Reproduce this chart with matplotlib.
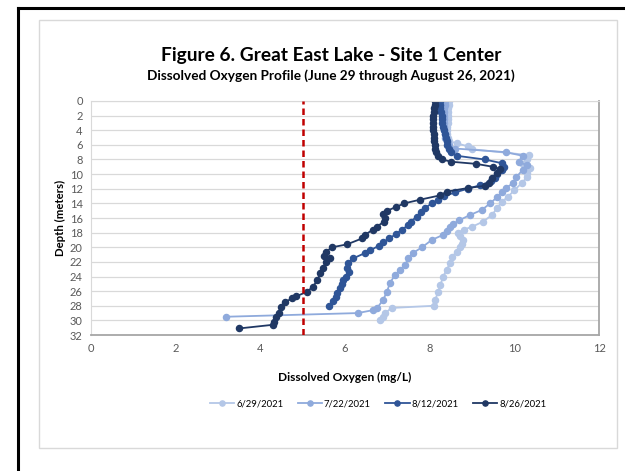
import matplotlib.pyplot as plt
from matplotlib.lines import Line2D
from matplotlib.patches import Rectangle

plt.rcParams['font.family'] = ['Lato', 'DejaVu Sans']

# dissolved oxygen profiles (depth in m, DO in mg/L)
depth_0629 = [0, 0.5, 1, 1.5, 2, 2.5, 3, 3.5, 4, 4.5, 5, 5.5, 5.8, 6.2, 6.6, 7.4, 8, 8.6, 9.2,
              9.8, 10.4, 11.2, 12.2, 13.1, 13.8, 14.6, 15.6, 16.5, 17.2, 17.6, 18, 18.5, 19,
              19.5, 20, 20.6, 21.3, 22.2, 23.1, 24, 25.2, 26.1, 27.2, 28, 28.3, 29, 29.5, 30]
do_0629 = [8.45, 8.45, 8.44, 8.44, 8.43, 8.43, 8.43, 8.42, 8.42, 8.42, 8.43, 8.45, 8.65, 8.9, 9.0,
           10.35, 10.3, 10.2, 10.37, 10.3, 10.3, 10.18, 10.0, 9.85, 9.7, 9.6, 9.47, 9.26, 9.0,
           8.8, 8.68, 8.72, 8.78, 8.76, 8.72, 8.64, 8.53, 8.48, 8.4, 8.32, 8.25, 8.2, 8.13,
           8.1, 7.1, 6.95, 6.9, 6.83]

depth_0722 = [0, 0.5, 1, 1.5, 2, 2.5, 3, 3.5, 4, 4.5, 5, 5.5, 6, 6.5, 7, 7.5, 8.3, 8.8, 9.4,
              10.4, 11.2, 11.9, 12.5, 13.1, 14, 14.9, 15.6, 16.3, 16.8, 17.2, 17.8, 18.3, 19,
              20, 20.8, 21.5, 22.4, 23.1, 23.8, 24.9, 26.1, 27.2, 28.3, 28.6, 29, 29.5]
do_0722 = [8.36, 8.36, 8.35, 8.35, 8.35, 8.34, 8.34, 8.35, 8.35, 8.36, 8.37, 8.4, 8.45, 8.6,
           9.8, 10.2, 10.1, 10.3, 10.2, 10.05, 9.98, 9.8, 9.7, 9.6, 9.43, 9.23, 8.95, 8.7,
           8.56, 8.48, 8.4, 8.32, 8.05, 7.82, 7.6, 7.5, 7.42, 7.3, 7.18, 7.06, 6.99, 6.9,
           6.76, 6.66, 6.3, 3.2]

depth_0812 = [0, 0.5, 1, 1.5, 2, 2.5, 3, 3.5, 4, 4.5, 5, 5.5, 6, 6.5, 7, 7.5, 8, 8.5, 9,
              9.5, 10, 10.5, 11, 11.5, 12, 12.5, 13, 13.5, 14, 14.6, 15.2, 15.8, 16.5, 17,
              17.6, 18.2, 18.8, 19.3, 19.8, 20.4, 20.8, 21.5, 22.2, 22.8, 23.4, 24, 24.5,
              25, 25.6, 26.2, 26.8, 27.4, 28.1]
do_0812 = [8.25, 8.25, 8.25, 8.27, 8.28, 8.3, 8.3, 8.32, 8.35, 8.36, 8.38, 8.4, 8.42, 8.45,
           8.5, 8.65, 9.3, 9.7, 9.75, 9.7, 9.6, 9.55, 9.45, 9.2, 8.9, 8.6, 8.35, 8.2, 8.05,
           7.9, 7.8, 7.7, 7.55, 7.48, 7.35, 7.2, 7.05, 6.9, 6.8, 6.6, 6.47, 6.2, 6.07, 6.05,
           6.1, 6.02, 5.96, 5.92, 5.88, 5.82, 5.78, 5.72, 5.62]

depth_0826 = [0, 0.5, 1, 1.5, 2, 2.5, 3, 3.5, 4, 4.5, 5, 5.5, 6, 6.5, 7, 7.5, 8, 8.3, 8.6,
              9, 9.3, 9.8, 10.5, 11.2, 11.6, 11.9, 12.4, 12.9, 13.5, 14, 14.5, 15, 15.5, 16,
              16.5, 17.2, 17.6, 18.3, 18.8, 19.6, 20, 20.6, 21.2, 21.5, 22, 22.8, 23.5, 24.5,
              25.4, 26.1, 26.7, 27, 27.5, 28.2, 29, 29.6, 30.2, 30.6, 31.1]
do_0826 = [8.12, 8.12, 8.1, 8.1, 8.08, 8.08, 8.08, 8.08, 8.08, 8.1, 8.1, 8.1, 8.12, 8.12,
           8.15, 8.2, 8.3, 8.5, 9.1, 9.5, 9.65, 9.6, 9.47, 9.4, 9.3, 8.9, 8.4, 8.25, 7.77,
           7.4, 7.2, 7.0, 6.9, 6.95, 6.92, 6.75, 6.66, 6.47, 6.4, 6.05, 5.7, 5.55, 5.5, 5.65,
           5.55, 5.48, 5.42, 5.35, 5.24, 5.1, 4.85, 4.75, 4.58, 4.48, 4.43, 4.38, 4.33, 4.3,
           3.5]

labels = ['6/29/2021', '7/22/2021', '8/12/2021', '8/26/2021']
colors = ['#B4C7E7', '#8FAADC', '#2F5597', '#203864']
threshold = 5

series = [(do_0629, depth_0629), (do_0722, depth_0722),
          (do_0812, depth_0812), (do_0826, depth_0826)]

fig = plt.figure(figsize=(6.25, 4.71), dpi=100)

# page frame lines and chart border
fig.add_artist(Line2D([0.029, 1.0], [0.983, 0.983], color='black', lw=2.2))
fig.add_artist(Line2D([0.029, 0.029], [0.0, 0.983], color='black', lw=2.2))
fig.add_artist(Rectangle((0.063, 0.049), 0.924, 0.908, fill=False,
                         edgecolor='#D9D9D9', lw=1))

ax = fig.add_axes([0.1456, 0.2887, 0.8128, 0.4969])

for (x, y), lab, c in zip(series, labels, colors):
    ax.plot(x, y, '-o', color=c, lw=1.3, ms=4.4, label=lab)

ax.axvline(threshold, color='#C00000', lw=1.8, linestyle=(0, (2.6, 1.6)), zorder=5)

ax.set_xlim(0, 12)
ax.set_ylim(32, 0)
ax.set_xticks(range(0, 13, 2))
ax.set_yticks(range(0, 33, 2))
ax.tick_params(length=0, labelsize=8, labelcolor='#595959', pad=6)
ax.yaxis.grid(True, color='#D9D9D9', lw=0.9)
ax.set_axisbelow(True)
for s in ['top', 'left']:
    ax.spines[s].set_color('#D9D9D9')
for s in ['bottom', 'right']:
    ax.spines[s].set_color('#A6A6A6')
    ax.spines[s].set_linewidth(1.3)

ax.set_xlabel('Dissolved Oxygen (mg/L)', fontsize=8.6, fontweight='bold', labelpad=13)
ax.set_ylabel('Depth (meters)', fontsize=8.2, fontweight='bold', labelpad=3)

fig.text(0.53, 0.883, 'Figure 6. Great East Lake - Site 1 Center', ha='center', va='center',
         fontsize=13.8, fontweight='bold')
fig.text(0.53, 0.839, 'Dissolved Oxygen Profile (June 29 through August 26, 2021)',
         ha='center', va='center', fontsize=9.8, fontweight='bold')

fig.legend(loc='center', bbox_to_anchor=(0.605, 0.142), ncol=4, frameon=False,
           fontsize=6.8, handlelength=2.6, columnspacing=1.5, handletextpad=0.2,
           markerscale=0.85)

fig.savefig('out.png', dpi=100)
